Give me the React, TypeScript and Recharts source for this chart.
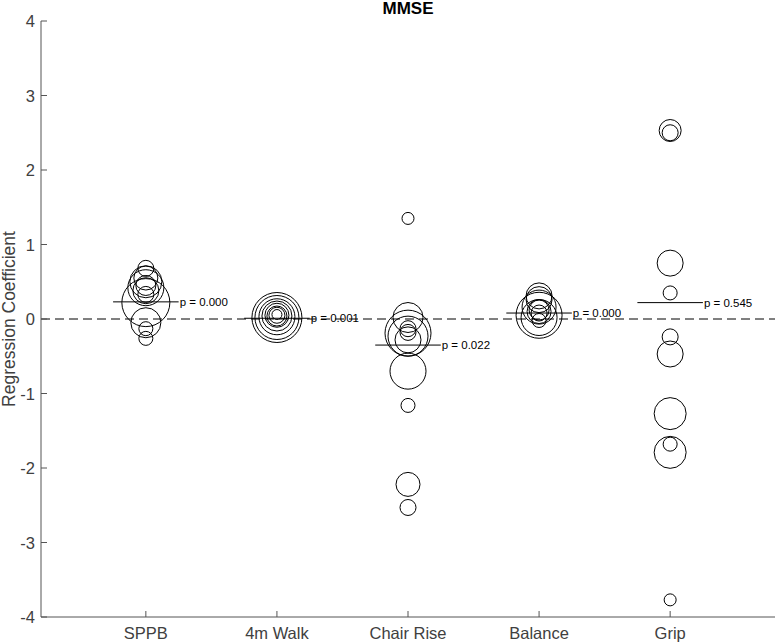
import { ScatterChart, Scatter, XAxis, YAxis, ReferenceLine } from "recharts";

const categories = ["SPPB", "4m Walk", "Chair Rise", "Balance", "Grip"];

// per-study regression coefficients and bubble weights, one pair of arrays per test
const sppbCoef = [0.68, 0.55, 0.5, 0.45, 0.42, 0.38, 0.33, 0.22, -0.05, -0.13, -0.26];
const sppbWeight = [64, 144, 256, 100, 324, 169, 64, 576, 225, 49, 49];

const walkCoef = [0.02, 0.02, 0.03, 0.04, 0.05, 0.05, 0.06, 0.04];
const walkWeight = [625, 484, 324, 225, 144, 64, 25, 100];

const chairCoef = [1.35, 0.02, -0.13, -0.18, -0.19, -0.23, -0.28, -0.7, -1.16, -2.22, -2.53];
const chairWeight = [36, 225, 64, 64, 529, 400, 169, 324, 49, 144, 64];

const balanceCoef = [0.31, 0.26, 0.16, 0.05, 0.12, 0.08, -0.02, 0.02, 0.1];
const balanceWeight = [169, 169, 289, 529, 100, 64, 49, 324, 144];

const gripCoef = [2.53, 2.5, 0.75, 0.35, -0.24, -0.47, -1.27, -1.68, -1.79, -3.77];
const gripWeight = [121, 64, 169, 49, 64, 169, 256, 49, 256, 36];

const meanCoef = [0.23, 0.01, -0.35, 0.08, 0.22];
const pValues = ["0.000", "0.001", "0.022", "0.000", "0.545"];

const yTicks = [-4, -3, -2, -1, 0, 1, 2, 3, 4];
const xTicks = [1, 2, 3, 4, 5];

const groups = [
  [sppbCoef, sppbWeight],
  [walkCoef, walkWeight],
  [chairCoef, chairWeight],
  [balanceCoef, balanceWeight],
  [gripCoef, gripWeight],
];

const points = groups.flatMap(([coef, weight], i) =>
  coef.map((c, j) => ({ x: i + 1, y: c, w: weight[j] }))
);

const FONT = "'Liberation Sans', Arial, Helvetica, sans-serif";
const AXIS = "#555";
const LABEL = "#404040";

const Bubble = (props: any) => (
  <circle cx={props.cx} cy={props.cy} r={Math.sqrt(props.payload.w)} fill="none" stroke="#000" strokeWidth={1} />
);

const BottomTick = ({ x, y, payload }: any) => (
  <g>
    <line x1={x} x2={x} y1={y} y2={y - 6} stroke={AXIS} />
    <text x={x} y={y + 22} textAnchor="middle" fontSize={16.5} fill={LABEL} fontFamily={FONT}>
      {categories[payload.value - 1]}
    </text>
  </g>
);

const TopTick = ({ x, y }: any) => <line x1={x} x2={x} y1={y} y2={y + 6} stroke={AXIS} />;

const LeftTick = ({ x, y, payload }: any) => (
  <g>
    <line x1={x} x2={x + 6} y1={y} y2={y} stroke={AXIS} />
    <text x={x - 6} y={y + 6} textAnchor="end" fontSize={16.5} fill={LABEL} fontFamily={FONT}>
      {payload.value}
    </text>
  </g>
);

const RightTick = ({ x, y }: any) => <line x1={x - 6} x2={x} y1={y} y2={y} stroke={AXIS} />;

export default function App() {
  return (
    <div style={{ position: "absolute", left: 0, top: 0, width: 776, height: 644, background: "#fff" }}>
      <div
        style={{
          position: "absolute",
          left: 41,
          top: 0,
          width: 734,
          textAlign: "center",
          fontFamily: FONT,
          fontWeight: "bold",
          fontSize: 17,
          lineHeight: "18px",
          color: "#000",
        }}
      >
        MMSE
      </div>
      <ScatterChart width={776} height={644} margin={{ top: 21, right: 1, bottom: 0, left: 0 }}>
        <XAxis
          xAxisId="b"
          type="number"
          dataKey="x"
          domain={[0.2, 5.8]}
          ticks={xTicks}
          allowDataOverflow
          height={27}
          tickSize={0}
          tickMargin={0}
          tickLine={false}
          tick={<BottomTick />}
          axisLine={{ stroke: AXIS }}
        />
        <XAxis
          xAxisId="t"
          orientation="top"
          type="number"
          domain={[0.2, 5.8]}
          ticks={xTicks}
          allowDataOverflow
          height={0}
          tickSize={0}
          tickMargin={0}
          tickLine={false}
          tick={<TopTick />}
          axisLine={{ stroke: AXIS }}
        />
        <YAxis
          yAxisId="l"
          type="number"
          dataKey="y"
          domain={[-4, 4]}
          ticks={yTicks}
          allowDataOverflow
          width={41}
          tickSize={0}
          tickMargin={0}
          tickLine={false}
          tick={<LeftTick />}
          axisLine={{ stroke: AXIS }}
          label={{
            value: "Regression Coefficient",
            angle: -90,
            position: "insideLeft",
            offset: 9,
            style: { textAnchor: "middle", fontSize: 17.5, fill: LABEL, fontFamily: FONT },
          }}
        />
        <YAxis
          yAxisId="r"
          orientation="right"
          type="number"
          domain={[-4, 4]}
          ticks={yTicks}
          allowDataOverflow
          width={0}
          tickSize={0}
          tickMargin={0}
          tickLine={false}
          tick={<RightTick />}
          axisLine={{ stroke: AXIS }}
        />
        <ReferenceLine xAxisId="b" yAxisId="l" y={0} stroke="#000" strokeDasharray="9 5" />
        {meanCoef.map((m, i) => (
          <ReferenceLine
            key={categories[i]}
            xAxisId="b"
            yAxisId="l"
            segment={[
              { x: i + 1 - 0.25, y: m },
              { x: i + 1 + 0.25, y: m },
            ]}
            stroke="#000"
            label={{ value: `p = ${pValues[i]}`, position: "right", offset: 1, fontSize: 11.5, fill: "#000", fontFamily: FONT }}
          />
        ))}
        <Scatter
          xAxisId="b"
          yAxisId="l"
          data={points}
          shape={<Bubble />}
          isAnimationActive={false}
        />
      </ScatterChart>
    </div>
  );
}
